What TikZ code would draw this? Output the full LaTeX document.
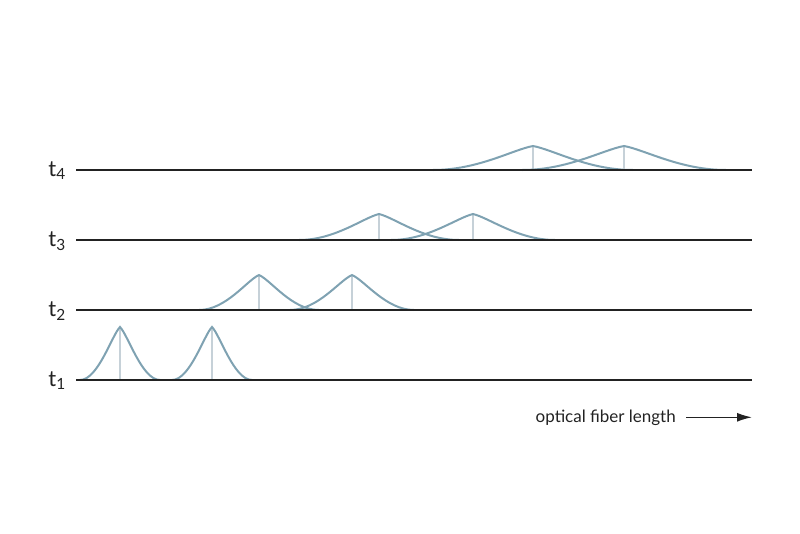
\documentclass[tikz,border=0pt]{standalone}
\usepackage{fontspec}
\setmainfont{Lato}
\usetikzlibrary{arrows.meta}

\definecolor{pulseblue}{HTML}{7FA2B2}
\definecolor{peakgray}{HTML}{C6D1D8}
\definecolor{axisblack}{HTML}{222222}

\tikzset{
  pulse/.style={pulseblue, line width=2pt},
  peak/.style={peakgray, line width=2pt},
  fiber/.style={axisblack, line width=2pt},
  tlabel/.style={anchor=base east, inner sep=0pt, text=axisblack, font=\fontsize{22}{22}\selectfont},
}

% pulse: centre, base line, half width, height
\newcommand{\pulse}[4]{%
  \draw[peak] (#1,#2) -- (#1,{#2-#4});
  \draw[pulse] ({#1-#3},#2) .. controls ({#1-0.55*#3},#2) and ({#1-0.2*#3},{#2-0.85*#4}) .. (#1,{#2-#4})
    .. controls ({#1+0.2*#3},{#2-0.85*#4}) and ({#1+0.55*#3},#2) .. ({#1+#3},#2);
}

\begin{document}
\begin{tikzpicture}[x=1pt,y=-1pt]

  \useasboundingbox (0,0) rectangle (800,533);

  % pulses spreading along the fiber
  \pulse{120}{380}{40}{53}
  \pulse{212}{380}{40}{53}
  \pulse{259}{310}{60}{35}
  \pulse{352}{310}{62}{35}
  \pulse{379}{240}{80}{26}
  \pulse{473}{240}{82}{26}
  \pulse{533}{170}{100}{24}
  \pulse{624}{170}{102}{24}

  \node[tlabel] (t4) at (66,176) {t\textsubscript{4}};
  \node[tlabel] (t3) at (66,246) {t\textsubscript{3}};
  \node[tlabel] (t2) at (66,316) {t\textsubscript{2}};
  \node[tlabel] (t1) at (66,386) {t\textsubscript{1}};

  \coordinate (s4) at (76,170);  \coordinate (e4) at (752,170);
  \coordinate (s3) at (76,240);  \coordinate (e3) at (752,240);
  \coordinate (s2) at (76,310);  \coordinate (e2) at (752,310);
  \coordinate (s1) at (76,380);  \coordinate (e1) at (752,380);
  \draw[fiber] (s4) -- (e4);
  \draw[fiber] (s3) -- (e3);
  \draw[fiber] (s2) -- (e2);
  \draw[fiber] (s1) -- (e1);

  \node[anchor=base east, inner sep=0pt, text=axisblack, font=\fontsize{17}{17}\selectfont] (len) at (676,422) {optical fiber length};
  \coordinate (tip) at (752,417);
  \draw[axisblack, line width=1.5pt, -{Latex[length=15pt,width=9pt]}] ([xshift=10pt]len.east) -- (len.east -| tip);

\end{tikzpicture}
\end{document}
